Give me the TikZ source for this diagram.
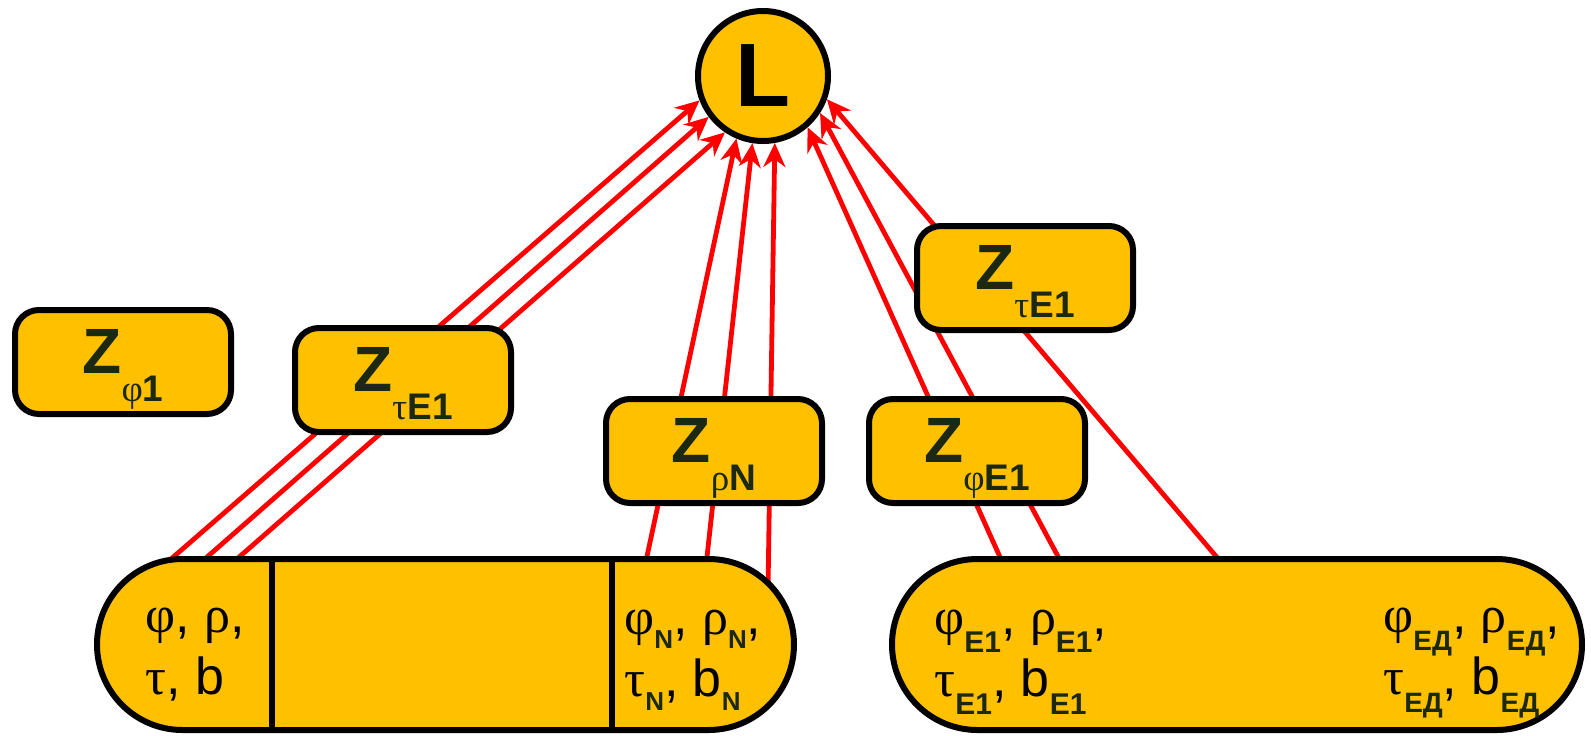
\documentclass[tikz,border=0pt]{standalone}
\usepackage{fontspec}
\setmainfont{Liberation Sans}
\newfontfamily\grk{Liberation Serif}
\usetikzlibrary{positioning,shapes.misc,arrows.meta,backgrounds}
\definecolor{gold}{HTML}{FFC000}
\definecolor{zdark}{HTML}{1B2812}
\newcommand{\gr}[1]{{\grk\mdseries #1}}
\newcommand{\lowr}[3]{\raisebox{-#2}{\fontsize{#1}{#1}\selectfont\bfseries\color{zdark}#3}}
\newcommand{\zlab}[1]{{\fontsize{32}{32}\selectfont\bfseries Z}\lowr{18.5pt}{14pt}{#1}}

\begin{document}
\begin{tikzpicture}[x=0.5pt,y=-0.5pt,
    zbox/.style={rectangle, rounded corners=12pt, draw=black, line width=3pt, fill=gold, minimum width=108pt, minimum height=52pt, text=zdark, inner sep=0pt, text height=25pt, text depth=14pt},
    pill/.style={rounded rectangle, draw=black, line width=3pt, fill=gold, minimum height=85.5pt, inner sep=0pt},
    vals/.style={anchor=west, align=left, inner sep=0pt, font=\fontsize{26}{31}\selectfont},
    lnk/.style={-{Stealth[length=12pt,width=11pt]}, red, line width=2.4pt}
  ]
  \useasboundingbox (0,0) rectangle (1591,735);

  \node[circle, draw=black, line width=3pt, fill=gold, minimum size=65pt, inner sep=0pt, font=\fontsize{45}{45}\selectfont\bfseries] (L) at (763,76) {L};

  \node[zbox] (zphi1) at (123,362) {\zlab{\gr{φ}1}};
  \node[zbox] (ztauA) at (403,380) {\zlab{\gr{τ}E1}};
  \node[zbox] (zrhoN) at (714,451) {\zlab{\gr{ρ}N}};
  \node[zbox] (zphiE) at (977,451) {\zlab{\gr{φ}E1}};
  \node[zbox] (ztauB) at (1025,278) {\zlab{\gr{τ}E1}};

  \node[pill, minimum width=348.5pt] (lpill) at (445.5,644.5) {};
  \node[pill, minimum width=345pt] (rpill) at (1237,644.5) {};
  \draw[line width=3pt] (272,0 |- lpill.north) -- (272,0 |- lpill.south);
  \draw[line width=3pt] (612,0 |- lpill.north) -- (612,0 |- lpill.south);

  \node[vals] (v0) at (145,655) {\gr{φ}, \gr{ρ},\\\gr{τ}, b};
  \node[vals] (vN) at (624,660) {\gr{φ}\lowr{13pt}{7pt}{N}, \gr{ρ}\lowr{13pt}{7pt}{N},\\\gr{τ}\lowr{13pt}{7pt}{N}, b\lowr{13pt}{7pt}{N}};
  \node[vals] (vE1) at (934,662) {\gr{φ}\lowr{15pt}{9pt}{E1}, \gr{ρ}\lowr{15pt}{9pt}{E1},\\\gr{τ}\lowr{15pt}{9pt}{E1}, b\lowr{15pt}{9pt}{E1}};
  \node[vals] (vED) at (1383,663) {\gr{φ}\lowr{14pt}{9pt}{ЕД}, \gr{ρ}\lowr{14pt}{9pt}{ЕД},\\\gr{τ}\lowr{14pt}{9pt}{ЕД}, b\lowr{14pt}{9pt}{ЕД}};

  % links, behind all boxes
  \coordinate (a1) at (156,572);
  \coordinate (a2) at (190,572);
  \coordinate (a3) at (222,572);
  \coordinate (b1) at (643,575);
  \coordinate (b2) at (705,575);
  \coordinate (b3) at (768,590);
  \coordinate (c1) at (1008,575);
  \coordinate (c2) at (1068,575);
  \coordinate (c3) at (1232,575);
  \begin{scope}[on background layer]
    \draw[lnk] (a1) -- (L.201);
    \draw[lnk] (a2) -- (L.217);
    \draw[lnk] (a3) -- (L.236);
    \draw[lnk] (b1) -- (L.247);
    \draw[lnk] (b2) -- (L.261);
    \draw[lnk] (b3) -- (L.280);
    \draw[lnk] (c1) -- (L.311);
    \draw[lnk] (c2) -- (L.327);
    \draw[lnk] (c3) -- (L.340);
  \end{scope}
\end{tikzpicture}
\end{document}
